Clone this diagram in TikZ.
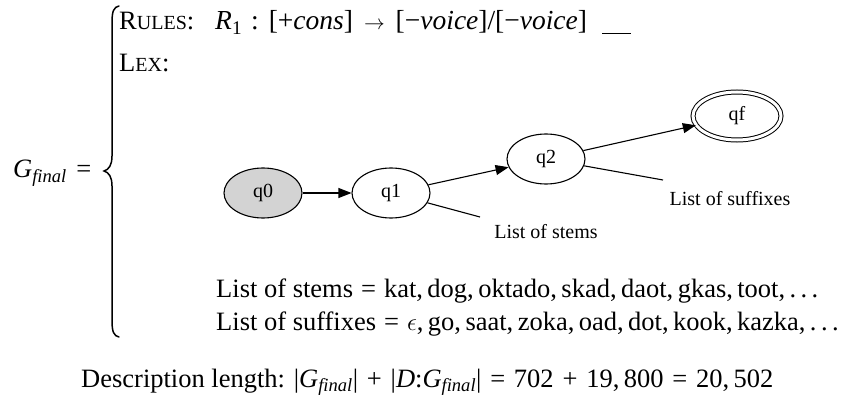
\documentclass[tikz,border=0pt]{standalone}
\usepackage{fontspec}
\setmainfont{Liberation Serif}
\usetikzlibrary{shapes.geometric,arrows.meta}
\definecolor{lightgrey}{HTML}{D3D3D3}
\newcommand\fsc[2]{#1{\fontsize{20}{22}\selectfont #2}}
\newcommand\isub[1]{\textsubscript{\itshape #1}}
\newcommand\marr{{\fontsize{22}{24}\selectfont$\rightarrow$}}
\newcommand\op[1]{\hspace{8pt}#1\hspace{8pt}}
\newcommand\dop[1]{\hspace{8.8pt}#1\hspace{8.8pt}}
\begin{document}
\begin{tikzpicture}[x=1pt,y=-1pt,
  main/.style={inner sep=0pt,font=\fontsize{26.5}{32}\selectfont},
  state/.style={ellipse,draw,line width=1.1pt,minimum width=78pt,minimum height=50pt,inner sep=0pt,font=\fontsize{20}{24}\selectfont},
  glabel/.style={inner sep=0pt,font=\fontsize{20}{24}\selectfont},
  edge/.style={line width=1.1pt,-{Triangle[length=13pt,width=10pt]}},
  tie/.style={line width=1.1pt},
  bracestroke/.style={line width=1.5pt,line cap=round}]
\useasboundingbox (0,0) rectangle (842,398);
% left side
\node[main,anchor=base west] (G) at (13,178) {\textit{G}\isub{final}\hspace{3pt} =};
\draw[bracestroke] (119,6) .. controls (114,7) and (112,11) .. (112,22) -- (112,156)
  .. controls (112,165) and (109,169.5) .. (104,171) .. controls (109,172.5) and (112,177) .. (112,186)
  -- (112,321) .. controls (112,332) and (114,336) .. (119,337);
% rules and lexicon
\node[main,anchor=base west] (rules) at (119,30) {\fsc{R}{ULES}:};
\node[main,anchor=base west,font=\fontsize{27.5}{32}\selectfont] (rule1) at (215,30)
  {\textit{R}\textsubscript{1}\hspace{9pt}:\hspace{10pt}[+\textit{cons}]\hspace{11pt}\marr\hspace{11pt}[−\textit{voice}]/[−\textit{voice}]\hspace{15pt}\rule[-4pt]{29pt}{1.2pt}};
\node[main,anchor=base west] (lex) at (119,72) {\fsc{L}{EX}:};
% automaton
\node[state,fill=lightgrey] (q0) at (263,193) {q0};
\node[state] (q1) at (391,193) {q1};
\node[state] (q2) at (546,159) {q2};
\node[state,minimum width=88pt,minimum height=48pt,double,double distance=3pt,line width=1pt] (qf) at (737,116) {qf};
\draw[edge] (q0) -- (q1);
\draw[edge] (q1) -- (q2);
\draw[edge] (q2) -- (qf);
\coordinate (stemend) at (480,217);
\coordinate (sufend) at (663,180);
\draw[tie] (q1) -- (stemend);
\draw[tie] (q2) -- (sufend);
\node[glabel] (stems) at (546,232) {List of stems};
\node[glabel] (suffixes) at (730,199) {List of suffixes};
% lists
\node[main,anchor=base west] (stemlist) at (216,297)
  {List of stems\op{=}kat,\,dog,\,oktado,\,skad,\,daot,\,gkas,\,toot,\,.\,.\,.};
\node[main,anchor=base west] (suflist) at (216,330)
  {List of suffixes\op{=}$\epsilon$,\,go,\,saat,\,zoka,\,oad,\,dot,\,kook,\,kazka,\,.\,.\,.};
% description length
\node[main,anchor=base west] (desc) at (81,387)
  {Description length: |\textit{G}\isub{final}|\dop{+}|\textit{D}:\textit{G}\isub{final}|\dop{=}702\dop{+}19,\,800\dop{=}20,\,502};
\end{tikzpicture}
\end{document}
